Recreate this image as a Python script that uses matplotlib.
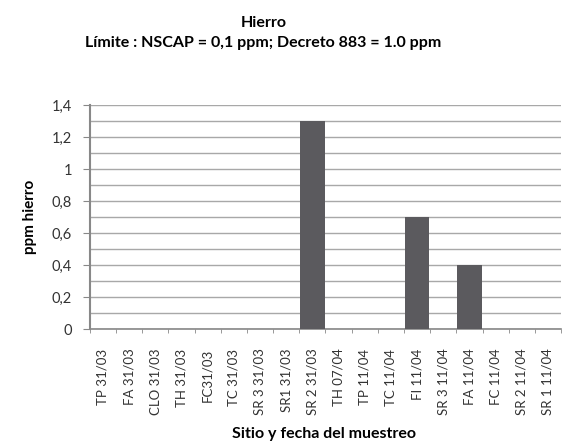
import matplotlib
matplotlib.use("Agg")
import matplotlib.pyplot as plt
import numpy as np

sites = ["TP 31/03", "FA 31/03", "CLO 31/03", "TH 31/03", "FC31/03", "TC 31/03",
         "SR 3 31/03", "SR1 31/03", "SR 2 31/03", "TH 07/04", "TP 11/04", "TC 11/04",
         "FI 11/04", "SR 3 11/04", "FA 11/04", "FC 11/04", "SR 2 11/04", "SR 1 11/04"]
iron_ppm = [0, 0, 0, 0, 0, 0, 0, 0, 1.3, 0, 0, 0, 0.7, 0, 0.4, 0, 0, 0]
y_ticks = [0, 0.2, 0.4, 0.6, 0.8, 1, 1.2, 1.4]
y_tick_labels = ["0", "0,2", "0,4", "0,6", "0,8", "1", "1,2", "1,4"]

plt.rcParams['font.family'] = ['Lato', 'DejaVu Sans']

fig = plt.figure(figsize=(5.65, 4.43), dpi=100)
ax = fig.add_axes([0.159, 0.257, 0.834, 0.506])

x = np.arange(len(sites))
ax.bar(x, iron_ppm, width=0.95, color="#5b5a5e", zorder=3)

ax.set_xlim(-0.5, len(sites) - 0.5)
ax.set_ylim(0, 1.4)

# horizontal grid every 0.1
ax.set_yticks(y_ticks)
ax.set_yticklabels(y_tick_labels, fontsize=10.5, color="#333333")
ax.set_yticks(np.arange(0, 1.41, 0.1), minor=True)
ax.grid(axis="y", which="both", color="#a8a8a8", linewidth=1.0, zorder=0)
ax.tick_params(axis="y", which="major", length=5, color="#888888", pad=8)
ax.tick_params(axis="y", which="minor", length=0)

# category ticks on boundaries
ax.set_xticks(np.arange(len(sites) + 1) - 0.5, minor=True)
ax.set_xticks(x)
ax.set_xticklabels(sites, rotation=90, fontsize=9.5, color="#333333")
ax.tick_params(axis="x", which="major", length=0, pad=14)
ax.tick_params(axis="x", which="minor", length=3, color="#888888", direction="out")

for side in ("top", "right"):
    ax.spines[side].set_visible(False)
ax.spines["left"].set_color("#888888")
ax.spines["left"].set_linewidth(1.5)
ax.spines["bottom"].set_color("#888888")
ax.spines["bottom"].set_linewidth(1.2)

fig.text(0.053, 0.51, "ppm hierro", rotation=90, ha="center", va="center",
         fontsize=11, fontweight="bold")
fig.text(0.573, 0.02, "Sitio y fecha del muestreo", ha="center", va="center",
         fontsize=11.5, fontweight="bold")
fig.text(0.466, 0.948, "Hierro", ha="center", va="center", fontsize=11.5, fontweight="bold")
fig.text(0.466, 0.902, "Límite : NSCAP = 0,1 ppm; Decreto 883 = 1.0 ppm", ha="center",
         va="center", fontsize=11.5, fontweight="bold")

fig.savefig("out.png", dpi=100)
